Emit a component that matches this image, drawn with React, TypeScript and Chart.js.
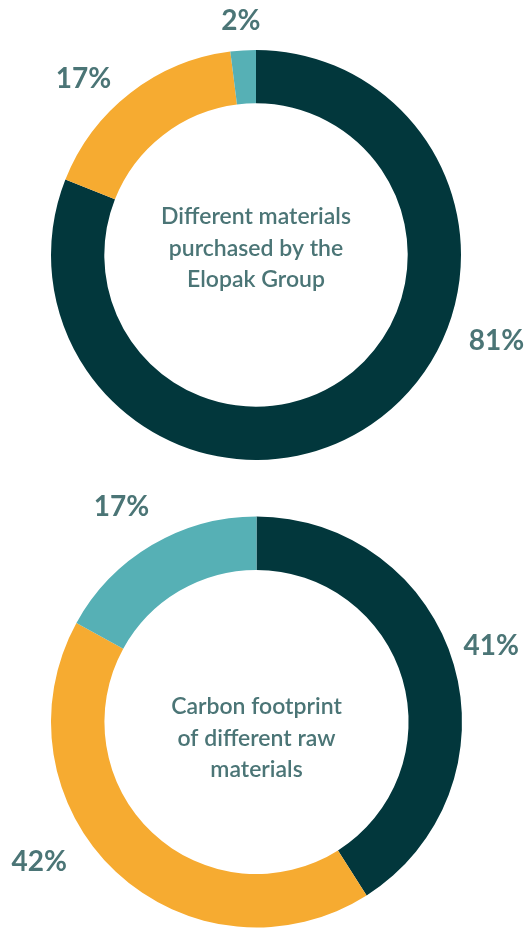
import React, { useEffect, useRef } from "react";
import { Chart, registerables } from "chart.js";

Chart.register(...registerables);

// ---- Data ----
const chart1Categories = ["Category A", "Category B", "Category C"];
const chart1Values = [81, 17, 2];
const chart1Labels = ["81%", "17%", "2%"];
const chart1Title = ["Different materials", "purchased by the", "Elopak Group"];

const chart2Categories = ["Category A", "Category B", "Category C"];
const chart2Values = [41, 42, 17];
const chart2Labels = ["41%", "42%", "17%"];
const chart2Title = ["Carbon footprint", "of different raw", "materials"];

// ---- Styles ----
const DARK = "#02373c";
const ORANGE = "#f6ab31";
const TEAL = "#56b0b5";
const TEXT = "#4b7576";
const COLORS = [DARK, ORANGE, TEAL];

const labelPlugin = {
  id: "ringLabels",
  afterDraw(chart: any, _args: any, opts: any) {
    const ctx = chart.ctx;
    const meta = chart.getDatasetMeta(0);
    const texts: string[] = opts.texts || [];
    const angles: (number | null)[] = opts.angles || [];
    const dists: number[] = opts.dists || [];
    ctx.save();
    ctx.fillStyle = TEXT;
    ctx.font = "bold 28px Lato";
    ctx.textAlign = "center";
    ctx.textBaseline = "alphabetic";
    meta.data.forEach((arc: any, i: number) => {
      const p = arc.getProps(["x", "y", "startAngle", "endAngle", "outerRadius"], true);
      let a = (p.startAngle + p.endAngle) / 2;
      if (angles[i] != null) a = ((angles[i] as number) - 90) * Math.PI / 180;
      const d = dists[i] ?? p.outerRadius + 40;
      const x = p.x + Math.cos(a) * d;
      const y = p.y + Math.sin(a) * d;
      ctx.fillText(texts[i], x, y + 10);
    });
    // center text
    const title: string[] = opts.title || [];
    const baselines: number[] = opts.baselines || [];
    const cx = meta.data[0].x;
    const cy = meta.data[0].y;
    ctx.font = "600 23px Lato";
    title.forEach((t, i) => ctx.fillText(t, cx, cy + baselines[i]));
    ctx.restore();
  },
};

function Donut(props: {
  top: number;
  values: number[];
  categories: string[];
  texts: string[];
  title: string[];
  angles: (number | null)[];
  dists: number[];
  baselines: number[];
  padding: { left: number; right: number; top: number; bottom: number };
}) {
  const ref = useRef<HTMLCanvasElement>(null);
  useEffect(() => {
    if (!ref.current) return;
    const chart = new Chart(ref.current, {
      type: "doughnut",
      data: {
        labels: props.categories,
        datasets: [
          {
            data: props.values,
            backgroundColor: COLORS,
            borderWidth: 0,
          },
        ],
      },
      options: {
        responsive: false,
        animation: false,
        cutout: "74%",
        layout: { padding: props.padding },
        plugins: {
          legend: { display: false },
          tooltip: { enabled: false },
          ringLabels: {
            texts: props.texts,
            angles: props.angles,
            dists: props.dists,
            title: props.title,
            baselines: props.baselines,
          },
        } as any,
      },
      plugins: [labelPlugin],
    });
    return () => chart.destroy();
  }, []);
  return (
    <canvas
      ref={ref}
      width={532}
      height={465}
      style={{ position: "absolute", left: 0, top: props.top, width: 532, height: 465 }}
    />
  );
}

export default function App() {
  return (
    <div
      style={{
        position: "absolute",
        left: 0,
        top: 0,
        width: 532,
        height: 930,
        background: "#ffffff",
        overflow: "hidden",
      }}
    >
      <Donut
        top={0}
        values={chart1Values}
        categories={chart1Categories}
        texts={chart1Labels}
        title={chart1Title}
        angles={[109.4, 315.7, 356.3]}
        dists={[255, 247, 235]}
        baselines={[-31, 1, 32]}
        padding={{ left: 51, right: 71, top: 49, bottom: 4 }}
      />
      <Donut
        top={465}
        values={chart2Values}
        categories={chart2Categories}
        texts={chart2Labels}
        title={chart2Title}
        angles={[71.9, 237.4, 328]}
        dists={[247, 258, 255]}
        baselines={[-8, 24, 55]}
        padding={{ left: 51, right: 70, top: 51, bottom: 2 }}
      />
    </div>
  );
}
